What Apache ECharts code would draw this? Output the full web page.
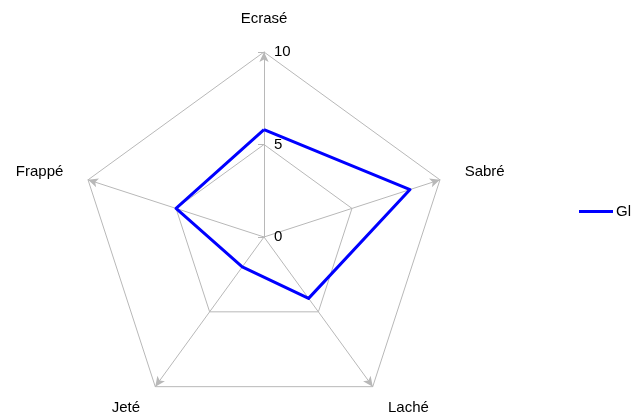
<!DOCTYPE html>
<html>
<head>
<meta charset="utf-8">
<script src="https://cdn.jsdelivr.net/npm/echarts@6/dist/echarts.min.js"></script>
<style>
  html, body { margin: 0; padding: 0; background: #fff; }
  #radar { width: 637px; height: 419px; }
</style>
</head>
<body>
<div id="radar"></div>
<script>
  // axes of the radar, clockwise from top
  var categories = ['Ecrasé', 'Sabré', 'Laché', 'Jeté', 'Frappé'];
  var seriesName = 'Gl';
  var glValues = [5.8, 8.3, 4.1, 2.0, 5.0];
  var maxValue = 10;
  var tickLabels = ['0', '5', '10'];

  var gridColor = '#b8b8b8';

  // echarts lays indicators out counter-clockwise, so keep the first one on top
  // and reverse the rest
  var order = [0, 4, 3, 2, 1];

  var indicators = order.map(function (i) {
    var ind = { name: categories[i], min: 0, max: maxValue };
    if (i === 0) {
      // only the first axis carries the value labels
      ind.axisLabel = {
        show: true,
        color: '#000',
        fontSize: 15,
        margin: -10,
        align: 'left',
        formatter: function (v) {
          var s = String(v);
          return tickLabels.indexOf(s) >= 0 ? s : '';
        }
      };
      ind.axisTick = { show: true, length: 6, lineStyle: { color: gridColor } };
    }
    return ind;
  });

  var myChart = echarts.init(document.getElementById('radar'));
  var option = {
    animation: false,
    textStyle: { fontFamily: 'Liberation Sans, Arial, sans-serif' },
    legend: {
      orient: 'vertical',
      left: 574,
      top: 199,
      itemWidth: 34,
      itemHeight: 3,
      itemGap: 4,
      textStyle: { color: '#000', fontSize: 15, padding: [0, 0, 0, -2] },
      data: [{ name: seriesName, icon: 'rect', itemStyle: { color: '#0000ff' } }]
    },
    radar: {
      center: [264, 237],
      radius: 185,
      startAngle: 90,
      splitNumber: 2,
      shape: 'polygon',
      nameGap: 26,
      axisName: { color: '#000', fontSize: 15 },
      axisLine: {
        show: true,
        symbol: ['none', 'arrow'],
        symbolSize: [7, 10],
        lineStyle: { color: gridColor, width: 1 }
      },
      axisTick: { show: false },
      axisLabel: { show: false },
      splitLine: { show: true, lineStyle: { color: gridColor, width: 1 } },
      splitArea: { show: false },
      indicator: indicators
    },
    series: [{
      name: seriesName,
      type: 'radar',
      symbol: 'none',
      lineStyle: { color: '#0000ff', width: 3 },
      itemStyle: { color: '#0000ff' },
      data: [{ name: seriesName, value: order.map(function (i) { return glValues[i]; }) }]
    }]
  };
  myChart.setOption(option);
</script>
</body>
</html>
